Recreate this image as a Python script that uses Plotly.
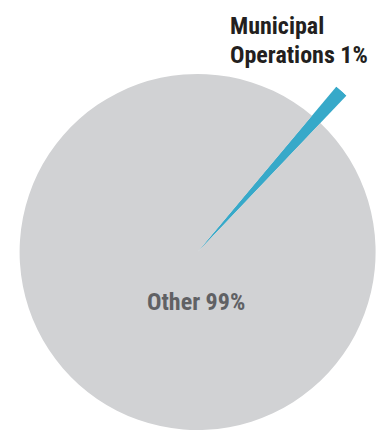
import math
import plotly.graph_objects as go

# Share of the total, in percent
labels = ["Municipal Operations", "Other"]
shares = [1, 99]
colors = ["#37a9c9", "#d1d2d4"]

W, H = 382, 430
FONT = "Roboto Condensed, Open Sans, sans-serif"

# Pie geometry (pixels): centre, radius of the grey disc, radius of the highlighted wedge
cx, cy = 197.6, 252.0
r_pie = 178.0
r_wedge = 216.0
start_angle = 40.0  # clockwise from 12 o'clock

fig = go.Figure()

# Highlighted wedge drawn as a polar bar so it can reach past the pie's rim
wedge_width = shares[0] / sum(shares) * 360.0
sector = [40, 56]
bx1 = max(math.cos(math.radians(sector[0])), math.cos(math.radians(sector[1])))
by1 = max(math.sin(math.radians(sector[0])), math.sin(math.radians(sector[1])))
fig.add_trace(go.Barpolar(
    r=[1],
    theta=[start_angle + wedge_width / 2],
    width=[wedge_width],
    marker=dict(color=colors[0], line=dict(width=0)),
    hoverinfo="skip",
    subplot="polar",
    showlegend=False,
))
fig.update_layout(polar=dict(
    domain=dict(
        x=[cx / W, (cx + r_wedge * bx1) / W],
        y=[(H - cy) / H, (H - cy + r_wedge * by1) / H],
    ),
    sector=sector,
    bgcolor="rgba(0,0,0,0)",
    radialaxis=dict(visible=False, range=[0, 1]),
    angularaxis=dict(visible=False, rotation=90, direction="clockwise"),
))

# Main pie
fig.add_trace(go.Pie(
    labels=labels,
    values=shares,
    sort=False,
    direction="clockwise",
    rotation=start_angle,
    marker=dict(colors=colors, line=dict(width=0)),
    textinfo="none",
    hoverinfo="label+percent",
    showlegend=False,
    domain=dict(x=[(cx - r_pie) / W, (cx + r_pie) / W], y=[0, 2 * r_pie / H]),
))

# Slice labels
label_font = dict(family=FONT, size=24, weight="bold")
fig.add_annotation(
    text=f"{labels[1]} {shares[1]}%",
    x=196 / W, y=(H - 302) / H, xref="paper", yref="paper",
    xanchor="center", yanchor="middle", showarrow=False,
    font=dict(label_font, color="#606164"),
)
first_word, rest = labels[0].split(" ", 1)
for line, ypix in [(first_word, 26), (f"{rest} {shares[0]}%", 55)]:
    fig.add_annotation(
        text=line,
        x=228 / W, y=(H - ypix) / H, xref="paper", yref="paper",
        xanchor="left", yanchor="middle", align="left", showarrow=False,
        font=dict(label_font, color="#231f20"),
    )

fig.update_layout(
    width=W, height=H,
    margin=dict(l=0, r=0, t=0, b=0),
    paper_bgcolor="white",
    plot_bgcolor="white",
)

fig.write_html("out.html")
